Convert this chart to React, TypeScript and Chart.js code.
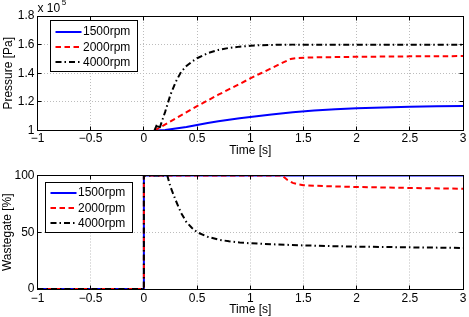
import { useEffect, useRef } from 'react';
import { Chart, registerables } from 'chart.js';

Chart.register(...registerables);

const FONT = '"Liberation Sans", Arial, Helvetica, sans-serif';

// Series names and styles
const SERIES_LABELS = ['1500rpm', '2000rpm', '4000rpm'];
const SERIES_COLORS = ['#0000ff', '#ff0000', '#000000'];
const SERIES_DASHES: number[][] = [[], [5.5, 3.5], [6, 3, 1.5, 3]];

// Time axis
const TIME_MIN = -1;
const TIME_MAX = 3;
const TIME_STEP = 0.5;

// Intake pressure, in units of 10^5 Pa
const P_MIN = 1;
const P_MAX = 1.8;
const P_STEP = 0.2;

const p1500Time = [0.12, 0.2, 0.3, 0.4, 0.5, 0.6, 0.7, 0.8, 0.9, 1.0, 1.2, 1.4, 1.6, 1.8, 2.0, 2.25, 2.5, 2.75, 3];
const p1500 = [1.0, 1.004, 1.014, 1.025, 1.038, 1.052, 1.064, 1.075, 1.085, 1.094, 1.112, 1.128, 1.14, 1.149, 1.155, 1.161, 1.166, 1.169, 1.171];

const p2000Time = [0.1, 0.3, 0.5, 0.7, 0.9, 1.0, 1.1, 1.2, 1.3, 1.38, 1.45, 1.6, 2, 2.5, 3];
const p2000 = [1.0, 1.085, 1.17, 1.25, 1.325, 1.364, 1.40, 1.435, 1.472, 1.5, 1.507, 1.511, 1.515, 1.518, 1.52];

const p4000Time = [0.1, 0.125, 0.145, 0.2, 0.25, 0.3, 0.35, 0.4, 0.45, 0.5, 0.6, 0.7, 0.8, 0.9, 1.0, 1.1, 1.2, 1.4, 1.6, 2, 2.5, 3];
const p4000 = [1.0, 1.045, 1.01, 1.13, 1.25, 1.34, 1.41, 1.45, 1.48, 1.505, 1.54, 1.563, 1.577, 1.586, 1.592, 1.596, 1.598, 1.6, 1.6, 1.6, 1.6, 1.6];

// Wastegate position [%]
const W_MIN = 0;
const W_MAX = 100;
const W_STEP = 50;

const w1500Time = [-1, 0, 0, 3];
const w1500 = [0, 0, 100, 100];

const w2000Time = [-1, 0, 0, 1.3, 1.35, 1.4, 1.45, 1.5, 1.6, 1.75, 2, 2.5, 3];
const w2000 = [0, 0, 100, 100, 96, 93.5, 92.2, 91.5, 91, 90.5, 89.9, 89, 88.3];

const w4000Time = [-1, 0, 0, 0.22, 0.25, 0.3, 0.35, 0.4, 0.45, 0.5, 0.6, 0.7, 0.8, 0.9, 1.0, 1.25, 1.5, 1.75, 2, 2.5, 3];
const w4000 = [0, 0, 100, 100, 90, 78, 67, 59, 54, 50, 46, 43.5, 42, 41, 40.3, 39.2, 38.4, 37.8, 37.3, 36.7, 36.2];

const crisp = (v: number) => Math.round(v - 0.5) + 0.5;

const fmtNum = (v: number) => {
  const n = Number(Number(v).toFixed(2));
  return n < 0 ? '\u2212' + Math.abs(n) : String(n);
};

function makeDatasets(times: number[][], values: number[][]) {
  return SERIES_LABELS.map((label, i) => ({
    label,
    data: times[i].map((t, j) => ({ x: t, y: values[i][j] })),
    borderColor: SERIES_COLORS[i],
    backgroundColor: SERIES_COLORS[i],
    borderDash: SERIES_DASHES[i],
    borderWidth: 2,
    pointRadius: 0,
    tension: 0,
    fill: false,
    // later series are painted over earlier ones
    order: SERIES_LABELS.length - i,
  }));
}

// Box with inward tick marks around the plot area
const framePlugin = {
  id: 'frame',
  afterDraw(chart: any) {
    const { ctx, chartArea: a, scales } = chart;
    const l = crisp(a.left), r = crisp(a.right), t = crisp(a.top), b = crisp(a.bottom);
    ctx.save();
    ctx.strokeStyle = '#000';
    ctx.lineWidth = 1;
    ctx.setLineDash([]);
    ctx.strokeRect(l, t, r - l, b - t);
    ctx.beginPath();
    for (const tk of scales.x.ticks) {
      const px = crisp(scales.x.getPixelForValue(tk.value));
      ctx.moveTo(px, b); ctx.lineTo(px, b - 4);
      ctx.moveTo(px, t); ctx.lineTo(px, t + 4);
    }
    for (const tk of scales.y.ticks) {
      const py = crisp(scales.y.getPixelForValue(tk.value));
      ctx.moveTo(l, py); ctx.lineTo(l + 4, py);
      ctx.moveTo(r, py); ctx.lineTo(r - 4, py);
    }
    ctx.stroke();
    ctx.restore();
  },
};

// Boxed legend inside the plot area
const boxLegendPlugin = {
  id: 'boxLegend',
  afterDraw(chart: any, _args: any, opts: any) {
    const { ctx, chartArea: a } = chart;
    const x = crisp(a.left + opts.dx);
    const y = crisp(a.top + opts.dy);
    const w = 87, h = opts.h;
    ctx.save();
    ctx.fillStyle = '#fff';
    ctx.fillRect(x, y, w, h);
    ctx.strokeStyle = '#000';
    ctx.lineWidth = 1;
    ctx.setLineDash([]);
    ctx.strokeRect(x, y, w, h);
    ctx.font = '12px ' + FONT;
    ctx.textBaseline = 'middle';
    ctx.textAlign = 'left';
    chart.data.datasets.forEach((ds: any, i: number) => {
      const ry = y + opts.first + i * opts.step;
      ctx.beginPath();
      ctx.strokeStyle = ds.borderColor;
      ctx.lineWidth = 2;
      ctx.setLineDash(ds.borderDash || []);
      ctx.moveTo(x + 5, Math.round(ry));
      ctx.lineTo(x + 31, Math.round(ry));
      ctx.stroke();
      ctx.fillStyle = '#000';
      ctx.fillText(ds.label, x + 32.5, ry + 0.5);
    });
    ctx.restore();
  },
};

// "x 10^5" multiplier above the pressure axis
const exponentPlugin = {
  id: 'exponent',
  afterDraw(chart: any, _args: any, opts: any) {
    if (!opts.show) return;
    const { ctx, chartArea: a } = chart;
    ctx.save();
    ctx.fillStyle = '#000';
    ctx.textBaseline = 'middle';
    ctx.textAlign = 'left';
    ctx.font = '12px ' + FONT;
    const base = 'x 10';
    ctx.fillText(base, a.left, a.top - 7.5);
    const bw = ctx.measureText(base).width;
    ctx.font = '8px ' + FONT;
    ctx.fillText('5', a.left + bw + 1.5, a.top - 13.5);
    ctx.restore();
  },
};

function buildConfig(o: {
  datasets: any[];
  yMin: number; yMax: number; yStep: number; yTitle: string;
  padTop: number; padBottom: number; xHeight: number;
  tickPad: number; yTitlePad: number;
  legend: { dx: number; dy: number; h: number; first: number; step: number };
  exponent: boolean;
}): any {
  return {
    type: 'line',
    data: { datasets: o.datasets },
    plugins: [framePlugin, boxLegendPlugin, exponentPlugin],
    options: {
      responsive: false,
      animation: false,
      events: [],
      layout: { padding: { top: o.padTop, bottom: o.padBottom, left: 0, right: 6 } },
      plugins: {
        legend: { display: false },
        tooltip: { enabled: false },
        title: { display: false },
        boxLegend: o.legend,
        exponent: { show: o.exponent },
      },
      scales: {
        x: {
          type: 'linear',
          min: TIME_MIN,
          max: TIME_MAX,
          afterFit: (s: any) => { s.height = o.xHeight; },
          ticks: {
            stepSize: TIME_STEP,
            padding: o.tickPad,
            maxRotation: 0,
            autoSkip: false,
            color: '#000',
            font: { family: FONT, size: 12 },
            callback: (v: number) => fmtNum(v),
          },
          grid: { color: '#bcbcbc', lineWidth: 1, drawTicks: false },
          border: { display: false, dash: [1, 2] },
          title: {
            display: true,
            text: 'Time [s]',
            color: '#000',
            font: { family: FONT, size: 12 },
            padding: { top: 0, bottom: 0 },
          },
        },
        y: {
          type: 'linear',
          min: o.yMin,
          max: o.yMax,
          afterFit: (s: any) => { s.width = 37.5; },
          ticks: {
            stepSize: o.yStep,
            padding: 3,
            color: '#000',
            font: { family: FONT, size: 12 },
            callback: (v: number) => fmtNum(v),
          },
          grid: { color: '#bcbcbc', lineWidth: 1, drawTicks: false },
          border: { display: false, dash: [1, 2] },
          title: {
            display: true,
            text: o.yTitle,
            color: '#000',
            font: { family: FONT, size: 12 },
            padding: { top: o.yTitlePad, bottom: 0 },
          },
        },
      },
    },
  };
}

export default function App() {
  const topRef = useRef<HTMLCanvasElement>(null);
  const botRef = useRef<HTMLCanvasElement>(null);

  useEffect(() => {
    const top = new Chart(
      topRef.current!,
      buildConfig({
        datasets: makeDatasets([p1500Time, p2000Time, p4000Time], [p1500, p2000, p4000]),
        yMin: P_MIN, yMax: P_MAX, yStep: P_STEP, yTitle: 'Pressure [Pa]',
        padTop: 16, padBottom: 159, xHeight: 27.5, tickPad: 1, yTitlePad: 1,
        legend: { dx: 13, dy: 4.5, h: 51, first: 11, step: 15.3 },
        exponent: true,
      })
    );
    const bot = new Chart(
      botRef.current!,
      buildConfig({
        datasets: makeDatasets([w1500Time, w2000Time, w4000Time], [w1500, w2000, w4000]),
        yMin: W_MIN, yMax: W_MAX, yStep: W_STEP, yTitle: 'Wastegate [%]',
        padTop: 175.5, padBottom: 0, xHeight: 28, tickPad: 2, yTitlePad: 0,
        legend: { dx: 8, dy: 7, h: 50, first: 10, step: 15.3 },
        exponent: false,
      })
    );
    return () => {
      top.destroy();
      bot.destroy();
    };
  }, []);

  const canvasStyle: React.CSSProperties = { position: 'absolute', left: 0, top: 0, width: 469, height: 317 };
  return (
    <div style={{ position: 'fixed', left: 0, top: 0, width: 469, height: 317, background: '#fff' }}>
      <canvas ref={topRef} width={469} height={317} style={canvasStyle} />
      <canvas ref={botRef} width={469} height={317} style={canvasStyle} />
    </div>
  );
}
